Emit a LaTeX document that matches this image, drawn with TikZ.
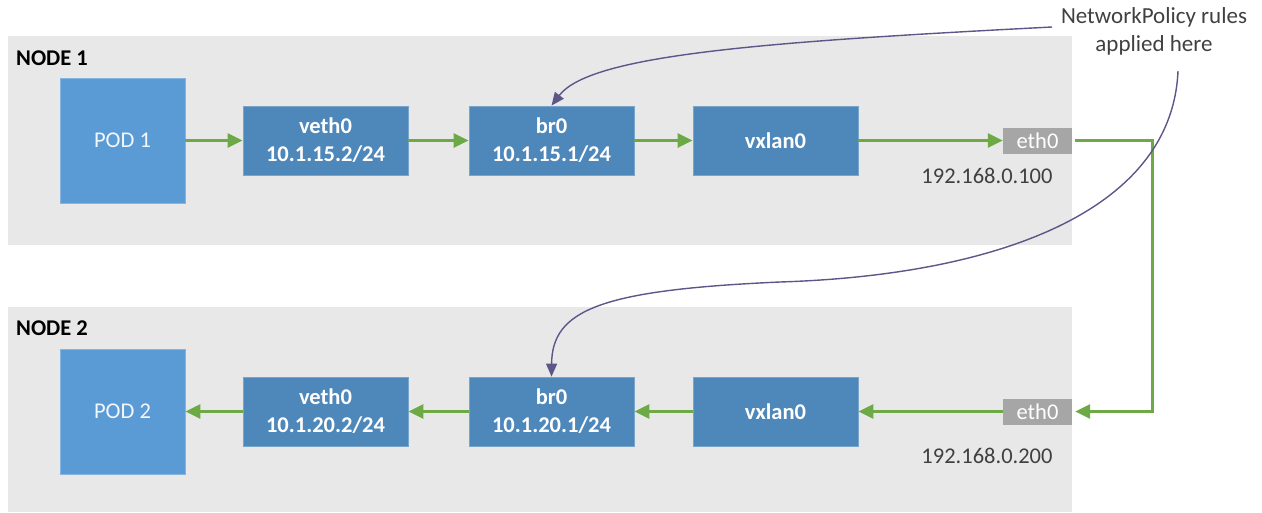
\documentclass[tikz,border=0pt]{standalone}
\usepackage{fontspec}
\setmainfont{Carlito}
\usetikzlibrary{arrows.meta}
\definecolor{panel}{HTML}{E8E8E8}
\definecolor{podblue}{HTML}{5B9BD5}
\definecolor{ifblue}{HTML}{4E87BA}
\definecolor{flowgreen}{HTML}{6DAA45}
\definecolor{ethgray}{HTML}{A6A6A6}
\definecolor{notepurple}{HTML}{5C5689}
\definecolor{labelgray}{HTML}{404040}

\begin{document}
\begin{tikzpicture}[x=1pt,y=-1pt,
  panelbox/.style={fill=panel},
  nodetitle/.style={anchor=west, inner sep=0pt, font=\fontsize{22.5}{26}\selectfont\bfseries},
  pod/.style={fill=podblue, draw=podblue!75!white, line width=0.8pt, text=white!92!podblue,
    minimum width=125pt, minimum height=125pt, inner sep=0pt, font=\fontsize{22.5}{27}\selectfont},
  iface/.style={fill=ifblue, draw=ifblue!75!white, line width=0.8pt, text=white,
    minimum width=165pt, minimum height=69pt, inner sep=0pt, align=center,
    font=\fontsize{22.5}{28}\selectfont\bfseries},
  eth/.style={fill=ethgray, text=white, minimum width=69pt, minimum height=26pt,
    inner sep=0pt, font=\fontsize{22.5}{26}\selectfont},
  addr/.style={text=labelgray, inner sep=0pt, font=\fontsize{22.5}{26}\selectfont},
  note/.style={text=labelgray, align=center, inner sep=0pt, font=\fontsize{23}{28}\selectfont},
  flow/.style={draw=flowgreen, line width=3pt, -{Triangle[length=15pt,width=14pt]}},
  pointer/.style={draw=notepurple, line width=1.4pt, -{Triangle[length=13pt,width=11pt]}}
]
\useasboundingbox (0,0) rectangle (1262,512);

% host panels
\fill[panelbox] (8,36) rectangle (1072,245);
\fill[panelbox] (8,307) rectangle (1072,512);
\node[nodetitle] (title1) at (16,58) {NODE 1};
\node[nodetitle] (title2) at (16,328) {NODE 2};

% node 1: outgoing path
\node[pod]   (pod1)  at (122.5,140.5) {POD 1};
\node[iface] (veth1) at (325.5,140.5) {veth0\\10.1.15.2/24};
\node[iface] (br1)   at (551.5,140.5) {br0\\10.1.15.1/24};
\node[iface] (vx1)   at (775.5,140.5) {vxlan0};
\node[eth]   (eth1)  at (1037.5,140.5) {eth0};
\node[addr]  (ip1)   at (987,176) {192.168.0.100};

% node 2: incoming path
\node[pod]   (pod2)  at (122.5,411.5) {POD 2};
\node[iface] (veth2) at (325.5,411.5) {veth0\\10.1.20.2/24};
\node[iface] (br2)   at (551.5,411.5) {br0\\10.1.20.1/24};
\node[iface] (vx2)   at (775.5,411.5) {vxlan0};
\node[eth]   (eth2)  at (1037.5,411.5) {eth0};
\node[addr]  (ip2)   at (987,456) {192.168.0.200};

% traffic flow
\draw[flow] (pod1) -- (veth1);
\draw[flow] (veth1) -- (br1);
\draw[flow] (br1) -- (vx1);
\draw[flow] (vx1) -- (eth1);
\coordinate (turn) at (1152,140.5);
\draw[flow] ([xshift=3pt]eth1.east) -- (turn) |- ([xshift=3pt]eth2.east);
\draw[flow] (eth2) -- (vx2);
\draw[flow] (vx2) -- (br2);
\draw[flow] (br2) -- (veth2);
\draw[flow] (veth2) -- (pod2);

% annotation
\node[note] (policy) at (1154,31) {NetworkPolicy rules\\applied here};
\coordinate (p1) at (1052,27);
\coordinate (p2) at (1178,71);
\draw[pointer] (p1) .. controls (760,42) and (590,55) .. (br1.north);
\draw[pointer] (p2) .. controls (1172,210) and (1000,275) .. (780,282)
  .. controls (600,290) and (552,310) .. (br2.north);
\end{tikzpicture}
\end{document}
